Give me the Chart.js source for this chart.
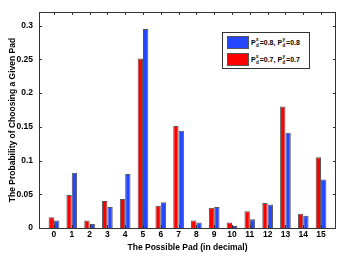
<!DOCTYPE html>
<html>
<head>
<meta charset="utf-8">
<script src="https://cdn.jsdelivr.net/npm/chart.js@4"></script>
<style>
  body { margin: 0; background: #fff; }
  #wrap { position: relative; width: 349px; height: 263px; }
  #legend {
    position: absolute; left: 222px; top: 32px; width: 86px; height: 35px;
    border: 1px solid #333; background: #fff;
    font: bold 7px "Liberation Sans", Arial, sans-serif; color: #000;
  }
  .row { position: absolute; left: 4px; height: 13px; display: flex; align-items: center; white-space: nowrap; }
  .sw { width: 22px; height: 13px; box-sizing: border-box; border: 1px solid #555; margin-right: 2px; }
  .p { position: relative; display: inline-block; padding-right: 4px; }
  .p sup, .p sub { font-size: 4.5px; position: absolute; left: 5px; line-height: 1; }
  .p sup { top: -1px; }
  .p sub { top: 5px; }
</style>
</head>
<body>
<div id="wrap">
  <canvas id="myChart"></canvas>
  <div id="legend">
    <div class="row" style="top:3px"><span class="sw" style="background:#2446ff"></span><span class="p">P<sup>x</sup><sub>d</sub></span>=0.8,&nbsp;<span class="p">P<sup>y</sup><sub>d</sub></span>=0.8</div>
    <div class="row" style="top:20px"><span class="sw" style="background:#ff0000"></span><span class="p">P<sup>x</sup><sub>d</sub></span>=0.7,&nbsp;<span class="p">P<sup>y</sup><sub>d</sub></span>=0.7</div>
  </div>
</div>
<script>
// pads 0..15
const pads = [0, 1, 2, 3, 4, 5, 6, 7, 8, 9, 10, 11, 12, 13, 14, 15]
// Pxd=0.7, Pyd=0.7 (red)
const red07 = [0.016, 0.049, 0.011, 0.040, 0.043, 0.251, 0.033, 0.151, 0.011, 0.030, 0.008, 0.025, 0.037, 0.180, 0.021, 0.105]
// Pxd=0.8, Pyd=0.8 (blue)
const blue08 = [0.011, 0.082, 0.006, 0.031, 0.080, 0.295, 0.038, 0.144, 0.008, 0.031, 0.003, 0.013, 0.035, 0.141, 0.018, 0.072]
const yTicks = [0, 0.05, 0.1, 0.15, 0.2, 0.25, 0.3]

const tickFont = { family: 'Liberation Sans, Arial, sans-serif', size: 8.5, weight: 'bold' }
const titleFont = { family: 'Liberation Sans, Arial, sans-serif', size: 8.5, weight: 'bold' }

// box round the plot with inward ticks on all four sides
const frame = {
  id: 'frame',
  afterDraw(chart) {
    const { ctx, chartArea: a, scales: { x, y } } = chart
    ctx.save()
    ctx.strokeStyle = '#333'
    ctx.lineWidth = 1
    ctx.strokeRect(Math.round(a.left) + 0.5, Math.round(a.top) + 0.5, Math.round(a.right - a.left) - 1, Math.round(a.bottom - a.top))
    ctx.beginPath()
    pads.forEach(p => {
      const px = Math.round(x.getPixelForValue(p)) + 0.5
      ctx.moveTo(px, a.bottom); ctx.lineTo(px, a.bottom - 3)
      ctx.moveTo(px, a.top); ctx.lineTo(px, a.top + 3)
    })
    yTicks.forEach(v => {
      const py = Math.round(y.getPixelForValue(v)) + 0.5
      ctx.moveTo(a.left, py); ctx.lineTo(a.left + 3, py)
      ctx.moveTo(a.right, py); ctx.lineTo(a.right - 3, py)
    })
    ctx.stroke()
    ctx.restore()
  }
}

const ctx = document.getElementById('myChart').getContext('2d')
const myChart = new Chart(ctx, {
  type: 'bar',
  data: {
    datasets: [{
      label: 'Pxd=0.7, Pyd=0.7',
      data: pads.map((p, i) => ({ x: p, y: red07[i] })),
      backgroundColor: '#ff0000',
      borderColor: '#555',
      borderWidth: 1
    }, {
      label: 'Pxd=0.8, Pyd=0.8',
      data: pads.map((p, i) => ({ x: p, y: blue08[i] })),
      backgroundColor: '#2446ff',
      borderColor: '#555',
      borderWidth: 1
    }]
  },
  options: {
    responsive: true,
    maintainAspectRatio: false,
    devicePixelRatio: 1,
    animation: false,
    categoryPercentage: 0.6,
    barPercentage: 1,
    layout: { padding: { top: 12, right: 13, left: 0, bottom: 0 } },
    plugins: { legend: { display: false }, tooltip: { enabled: false } },
    scales: {
      x: {
        type: 'linear',
        offset: false,
        min: -0.84,
        max: 15.84,
        afterBuildTicks: axis => { axis.ticks = pads.map(v => ({ value: v })) },
        afterFit: axis => { axis.height = 35 },
        grid: { display: false, drawTicks: false },
        border: { display: false },
        ticks: { color: '#000', font: tickFont, padding: 2, maxRotation: 0, autoSkip: false },
        title: { display: true, text: 'The Possible Pad (in decimal)', color: '#000', font: titleFont, padding: { top: 0, bottom: 10 } }
      },
      y: {
        min: 0,
        max: 0.32,
        afterBuildTicks: axis => { axis.ticks = yTicks.map(v => ({ value: v })) },
        afterFit: axis => { axis.width = 39 },
        grid: { display: false, drawTicks: false },
        border: { display: false },
        ticks: { color: '#000', font: tickFont, padding: 6, callback: v => String(+v.toFixed(2)) },
        title: { display: true, text: 'The Probability of Choosing a Given Pad', color: '#000', font: titleFont, padding: { top: 8, bottom: 0 } }
      }
    }
  },
  plugins: [frame]
})
</script>
</body>
</html>
